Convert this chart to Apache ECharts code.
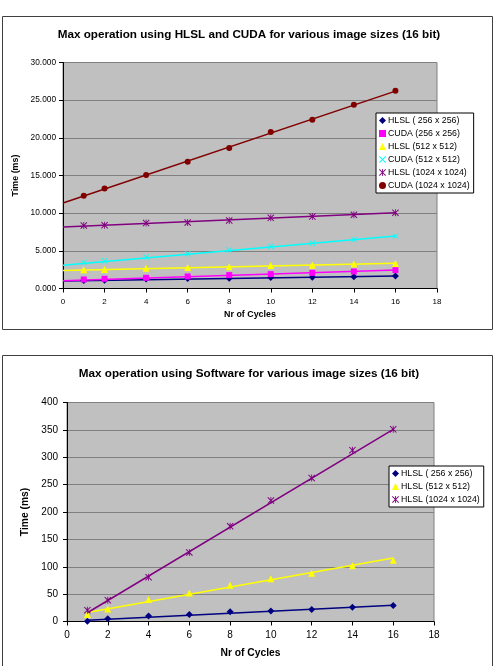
<!DOCTYPE html>
<html>
<head>
<meta charset="utf-8">
<script src="https://cdn.jsdelivr.net/npm/echarts@6/dist/echarts.min.js"></script>
<style>
html, body { margin: 0; padding: 0; background: #fff; }
#chart { width: 498px; height: 666px; }
</style>
</head>
<body>
<div id="chart"></div>
<script>
// cycles measured
const cycles = [1, 2, 4, 6, 8, 10, 12, 14, 16]

// GPU chart (ms)
const hlsl256 = [1.06, 1.10, 1.25, 1.33, 1.37, 1.46, 1.50, 1.55, 1.65]
const cuda256 = [1.20, 1.29, 1.42, 1.60, 1.78, 1.91, 2.08, 2.26, 2.44]
const hlsl512 = [2.48, 2.52, 2.70, 2.79, 2.88, 3.05, 3.10, 3.24, 3.32]
const cuda512 = [3.45, 3.68, 4.17, 4.60, 5.10, 5.58, 6.02, 6.50, 6.95]
const hlsl1024 = [8.36, 8.40, 8.68, 8.76, 9.03, 9.38, 9.56, 9.78, 10.05]
const cuda1024 = [12.30, 13.27, 15.05, 16.82, 18.64, 20.76, 22.39, 24.38, 26.24]

// trend line ends
const gpuTrendX = [0, 16]
const hlsl256Trend = [0.98, 1.66]
const cuda256Trend = [1.02, 2.45]
const hlsl512Trend = [2.40, 3.36]
const cuda512Trend = [3.10, 6.98]
const hlsl1024Trend = [8.15, 10.05]
const cuda1024Trend = [11.35, 26.20]

// software chart (ms)
const swHlsl256 = [0.5, 5, 10, 13, 18, 19, 22, 26, 29]
const swHlsl512 = [12.8, 23, 40, 52, 66, 78, 88, 102, 112]
const swHlsl1024 = [20.7, 39, 81, 126, 174, 221, 262, 313, 351]

const swTrendX = [1, 16]
const swHlsl256Trend = [2.4, 29.5]
const swHlsl512Trend = [16.5, 116]
const swHlsl1024Trend = [16, 351]

const gpuNames = ['HLSL ( 256 x 256)', 'CUDA (256 x 256)', 'HLSL (512 x 512)', 'CUDA (512 x 512)', 'HLSL (1024 x 1024)', 'CUDA (1024 x 1024)']
const swNames = ['HLSL ( 256 x 256)', 'HLSL (512 x 512)', 'HLSL (1024 x 1024)']

const FONT = '"Liberation Sans", Arial, sans-serif'

const crossPath = 'path://M0,1L1,0L5,4L9,0L10,1L6,5L10,9L9,10L5,6L1,10L0,9L4,5Z'
const starPath = 'path://M0,1L1,0L4.4,3.4L4.4,0L5.6,0L5.6,3.4L9,0L10,1L6,5L10,9L9,10L5.6,6.6L5.6,10L4.4,10L4.4,6.6L1,10L0,9L4,5Z'

const zip = (xs, ys) => xs.map((x, i) => [x, ys[i]])

const markerSeries = (name, xi, ys, color, symbol, size) => ({
    name,
    type: 'scatter',
    xAxisIndex: xi,
    yAxisIndex: xi,
    data: zip(cycles, ys),
    symbol,
    symbolSize: size,
    itemStyle: { color, opacity: 1 },
    z: 3,
    silent: true,
})

const trendSeries = (xi, xs, ys, color) => ({
    type: 'line',
    xAxisIndex: xi,
    yAxisIndex: xi,
    data: zip(xs, ys),
    showSymbol: false,
    symbol: 'none',
    lineStyle: { color, width: 1.5 },
    z: 2,
    silent: true,
})

const xAxisCommon = (gi, fontSize, nameSize, nameGap, labelMargin) => ({
    type: 'value',
    gridIndex: gi,
    min: 0,
    max: 18,
    interval: 2,
    name: 'Nr of Cycles',
    nameLocation: 'middle',
    nameGap,
    nameTextStyle: { fontFamily: FONT, fontSize: nameSize, fontWeight: 'bold', color: '#000' },
    axisLine: { onZero: false, lineStyle: { color: '#000', width: 1 } },
    axisTick: { show: true, length: 4, lineStyle: { color: '#000' } },
    axisLabel: { fontFamily: FONT, fontSize, color: '#000', margin: labelMargin },
    splitLine: { show: false },
})

const yAxisCommon = (gi, max, interval, fontSize, nameSize, nameGap, labelMargin, formatter) => ({
    type: 'value',
    gridIndex: gi,
    min: 0,
    max,
    interval,
    name: 'Time (ms)',
    nameLocation: 'middle',
    nameGap,
    nameRotate: 90,
    nameTextStyle: { fontFamily: FONT, fontSize: nameSize, fontWeight: 'bold', color: '#000' },
    axisLine: { show: true, lineStyle: { color: '#000', width: 1 } },
    axisTick: { show: true, length: 4, lineStyle: { color: '#000' } },
    axisLabel: { fontFamily: FONT, fontSize, color: '#000', margin: labelMargin, formatter },
    splitLine: { show: true, lineStyle: { color: '#808080', width: 1 } },
})

const legendCommon = (names, left, top) => ({
    data: names,
    orient: 'vertical',
    left,
    top,
    padding: [3, 4, 3, 3],
    itemGap: 4,
    itemWidth: 7,
    itemHeight: 7,
    backgroundColor: '#fff',
    borderColor: '#000',
    borderWidth: 1,
    borderRadius: 0,
    textStyle: { fontFamily: FONT, fontSize: 8.8, color: '#000', padding: [0, 0, 0, -3] },
})

const chart = echarts.init(document.getElementById('chart'))

chart.setOption({
    animation: false,
    backgroundColor: '#fff',
    graphic: [
        { type: 'rect', shape: { x: 2.5, y: 16.5, width: 490, height: 313 }, style: { fill: 'none', stroke: '#404040', lineWidth: 1 }, z: 0 },
        { type: 'rect', shape: { x: 2.5, y: 355.5, width: 490, height: 330 }, style: { fill: 'none', stroke: '#404040', lineWidth: 1 }, z: 0 },
    ],
    title: [
        {
            text: 'Max operation using HLSL and CUDA for various image sizes (16 bit)',
            left: 'center',
            top: 29,
            padding: 0,
            textStyle: { fontFamily: FONT, fontSize: 11.7, fontWeight: 'bold', color: '#000' },
        },
        {
            text: 'Max operation using Software for various image sizes (16 bit)',
            left: 'center',
            top: 368,
            padding: 0,
            textStyle: { fontFamily: FONT, fontSize: 11.7, fontWeight: 'bold', color: '#000' },
        },
    ],
    legend: [
        legendCommon(gpuNames, 376, 113),
        legendCommon(swNames, 389, 466),
    ],
    grid: [
        { left: 63, top: 62.5, width: 374, height: 226, show: true, backgroundColor: '#C0C0C0', borderColor: '#808080', borderWidth: 1 },
        { left: 67, top: 402.5, width: 367, height: 219, show: true, backgroundColor: '#C0C0C0', borderColor: '#808080', borderWidth: 1 },
    ],
    xAxis: [
        xAxisCommon(0, 8, 8.9, 22, 9),
        xAxisCommon(1, 10, 10.3, 27, 9),
    ],
    yAxis: [
        yAxisCommon(0, 30, 5, 8.3, 8.9, 37, 7, v => v.toFixed(3)),
        yAxisCommon(1, 400, 50, 10, 10.3, 27, 9, v => String(v)),
    ],
    series: [
        trendSeries(0, gpuTrendX, hlsl256Trend, '#000080'),
        trendSeries(0, gpuTrendX, cuda256Trend, '#FF00FF'),
        trendSeries(0, gpuTrendX, hlsl512Trend, '#FFFF00'),
        trendSeries(0, gpuTrendX, cuda512Trend, '#00FFFF'),
        trendSeries(0, gpuTrendX, hlsl1024Trend, '#800080'),
        trendSeries(0, gpuTrendX, cuda1024Trend, '#800000'),
        markerSeries(gpuNames[0], 0, hlsl256, '#000080', 'diamond', 7),
        markerSeries(gpuNames[1], 0, cuda256, '#FF00FF', 'rect', 6),
        markerSeries(gpuNames[2], 0, hlsl512, '#FFFF00', 'triangle', 7),
        markerSeries(gpuNames[3], 0, cuda512, '#00FFFF', crossPath, 6),
        markerSeries(gpuNames[4], 0, hlsl1024, '#800080', starPath, 7),
        markerSeries(gpuNames[5], 0, cuda1024, '#800000', 'circle', 6),

        trendSeries(1, swTrendX, swHlsl256Trend, '#000080'),
        trendSeries(1, swTrendX, swHlsl512Trend, '#FFFF00'),
        trendSeries(1, swTrendX, swHlsl1024Trend, '#800080'),
        markerSeries(swNames[0], 1, swHlsl256, '#000080', 'diamond', 7),
        markerSeries(swNames[1], 1, swHlsl512, '#FFFF00', 'triangle', 7),
        markerSeries(swNames[2], 1, swHlsl1024, '#800080', starPath, 7),
    ],
})
</script>
</body>
</html>
